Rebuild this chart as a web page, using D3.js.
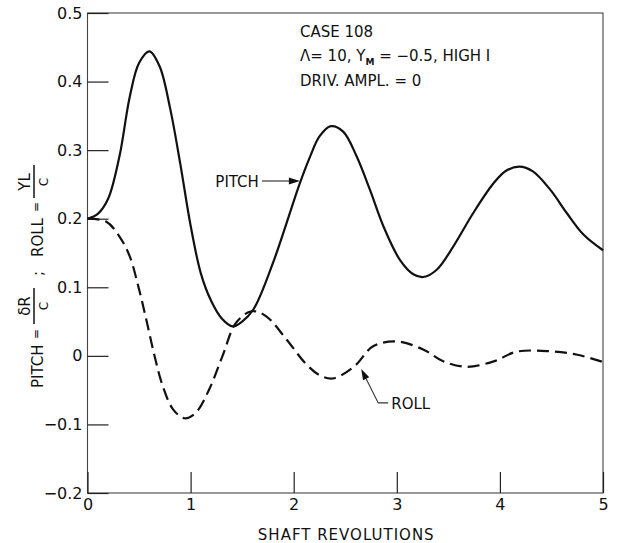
<!DOCTYPE html>
<html>
<head>
<meta charset="utf-8">
<script src="https://cdn.jsdelivr.net/npm/d3@7"></script>
<style>
  body { margin: 0; background: #fff; }
  text { font-family: "DejaVu Sans", sans-serif; fill: #111; }
</style>
</head>
<body>
<div id="chart"></div>
<script>
// values
var pitchX = [0, 0.1, 0.2, 0.31, 0.41, 0.5, 0.6, 0.7, 0.8, 0.9, 1.0, 1.1, 1.2, 1.3, 1.41, 1.5, 1.61, 1.8, 2.06, 2.16, 2.25, 2.36, 2.48, 2.61, 2.74, 2.87, 3.03, 3.16, 3.26, 3.39, 3.55, 3.74, 3.94, 4.06, 4.19, 4.32, 4.49, 4.65, 4.81, 5.0];
var pitchY = [0.2, 0.207, 0.229, 0.291, 0.378, 0.427, 0.444, 0.422, 0.362, 0.28, 0.19, 0.12, 0.08, 0.055, 0.043, 0.05, 0.068, 0.136, 0.252, 0.291, 0.32, 0.335, 0.327, 0.291, 0.242, 0.189, 0.14, 0.119, 0.115, 0.126, 0.16, 0.208, 0.252, 0.27, 0.276, 0.269, 0.242, 0.208, 0.177, 0.154];

var rollX = [0, 0.18, 0.31, 0.41, 0.5, 0.57, 0.65, 0.73, 0.83, 0.94, 1.05, 1.18, 1.31, 1.44, 1.59, 1.73, 1.93, 2.12, 2.25, 2.38, 2.59, 2.77, 3.0, 3.26, 3.45, 3.68, 3.94, 4.16, 4.45, 4.74, 5.0];
var rollY = [0.2, 0.196, 0.174, 0.145, 0.097, 0.053, 0.0, -0.044, -0.078, -0.091, -0.083, -0.049, 0.0, 0.048, 0.065, 0.058, 0.024, -0.012, -0.028, -0.033, -0.015, 0.014, 0.021, 0.009, -0.008, -0.016, -0.008, 0.006, 0.007, 0.002, -0.009];

var xTicks = [0, 1, 2, 3, 4, 5];
var xTickLabels = ["0", "1", "2", "3", "4", "5"];
var yTicks = [0.5, 0.4, 0.3, 0.2, 0.1, 0, -0.1, -0.2];
var yTickLabels = ["0.5", "0.4", "0.3", "0.2", "0.1", "0", "\u22120.1", "\u22120.2"];

var caseLines = ["CASE  108", "DRIV.  AMPL. = 0"];

// set the dimensions and margins of the graph
var margin = {top: 13, right: 18, bottom: 50, left: 87.5},
    width = 621 - margin.left - margin.right,
    height = 543 - margin.top - margin.bottom;

var svg = d3.select("#chart")
  .append("svg")
    .attr("width", 621)
    .attr("height", 543)
  .append("g")
    .attr("transform", "translate(" + margin.left + "," + margin.top + ")");

var x = d3.scaleLinear().domain([0, 5]).range([0, width]);
var y = d3.scaleLinear().domain([-0.2, 0.5]).range([height, 0]);

// frame
svg.append("rect")
  .attr("x", 0).attr("y", 0)
  .attr("width", width).attr("height", height)
  .attr("fill", "none")
  .attr("stroke", "#444")
  .attr("stroke-width", 1.1);

// x axis, ticks pointing inward
var xAxis = svg.append("g")
  .attr("transform", "translate(0," + height + ")")
  .call(d3.axisBottom(x)
    .tickValues(xTicks)
    .tickFormat(function(d, i) { return xTickLabels[i]; })
    .tickSizeInner(-21)
    .tickSizeOuter(0)
    .tickPadding(6));
xAxis.select(".domain").remove();
xAxis.selectAll("line").attr("stroke", "#222").attr("stroke-width", 1.2);
xAxis.selectAll("text")
  .attr("font-size", 16)
  .attr("font-family", "DejaVu Sans, sans-serif")
  .attr("fill", "#111");

// y axis
var yAxis = svg.append("g")
  .call(d3.axisLeft(y)
    .tickValues(yTicks)
    .tickFormat(function(d, i) { return yTickLabels[i]; })
    .tickSizeInner(-21)
    .tickSizeOuter(0)
    .tickPadding(5));
yAxis.select(".domain").remove();
yAxis.selectAll("line").attr("stroke", "#222").attr("stroke-width", 1.2);
yAxis.selectAll("text")
  .attr("font-size", 16)
  .attr("font-family", "DejaVu Sans, sans-serif")
  .attr("fill", "#111");

// x label
svg.append("text")
  .attr("x", width / 2 + 1)
  .attr("y", height + 47)
  .attr("text-anchor", "middle")
  .attr("font-size", 15)
  .attr("letter-spacing", 1)
  .text("SHAFT REVOLUTIONS");

// y label, rotated, with stacked fractions
var yl = svg.append("g")
  .attr("transform", "translate(" + (43 - margin.left) + "," + (388 - margin.top) + ") rotate(-90)");
yl.append("text").attr("x", 0).attr("y", 0).attr("font-size", 15).text("PITCH");
yl.append("text").attr("x", 49).attr("y", -3).attr("font-size", 12).text("=");
yl.append("line").attr("x1", 64).attr("x2", 100).attr("y1", -9).attr("y2", -9)
  .attr("stroke", "#111").attr("stroke-width", 1.5);
yl.append("text").attr("x", 82).attr("y", -13).attr("text-anchor", "middle").attr("font-size", 15).text("\u03b4R");
yl.append("text").attr("x", 82).attr("y", 5).attr("text-anchor", "middle").attr("font-size", 12).text("C");
yl.append("text").attr("x", 112).attr("y", 0).attr("font-size", 15).text(";");
yl.append("text").attr("x", 131).attr("y", 0).attr("font-size", 15).text("ROLL");
yl.append("text").attr("x", 176).attr("y", -3).attr("font-size", 12).text("=");
yl.append("line").attr("x1", 190).attr("x2", 223).attr("y1", -9).attr("y2", -9)
  .attr("stroke", "#111").attr("stroke-width", 1.5);
yl.append("text").attr("x", 206).attr("y", -13).attr("text-anchor", "middle").attr("font-size", 15).text("YL");
yl.append("text").attr("x", 206).attr("y", 5).attr("text-anchor", "middle").attr("font-size", 12).text("C");

// lines
var pitchData = pitchX.map(function(d, i) { return [d, pitchY[i]]; });
var rollData = rollX.map(function(d, i) { return [d, rollY[i]]; });

var line = d3.line()
  .x(function(d) { return x(d[0]); })
  .y(function(d) { return y(d[1]); })
  .curve(d3.curveCatmullRom.alpha(0.5));

svg.append("path")
  .datum(pitchData)
  .attr("d", line)
  .attr("fill", "none")
  .attr("stroke", "#111")
  .attr("stroke-width", 2.2);

svg.append("path")
  .datum(rollData)
  .attr("d", line)
  .attr("fill", "none")
  .attr("stroke", "#111")
  .attr("stroke-width", 2.2)
  .attr("stroke-dasharray", "12,6");

// case text
var caseX = 300 - margin.left;
svg.append("text").attr("x", caseX).attr("y", 37 - margin.top).attr("font-size", 15).text(caseLines[0]);
var l2 = svg.append("text").attr("x", caseX).attr("y", 61 - margin.top).attr("font-size", 15);
l2.append("tspan").text("\u039b= 10,  Y");
l2.append("tspan").attr("font-size", 9).attr("font-weight", "bold").attr("dy", 4).text("M");
l2.append("tspan").attr("dy", -4).text(" = \u22120.5,  HIGH  I");
svg.append("text").attr("x", caseX).attr("y", 86 - margin.top).attr("font-size", 15).text(caseLines[1]);

// arrow helper
function arrowHead(tip, from, len, half) {
  var dx = tip[0] - from[0], dy = tip[1] - from[1];
  var L = Math.sqrt(dx * dx + dy * dy);
  var ux = dx / L, uy = dy / L;
  var bx = tip[0] - ux * len, by = tip[1] - uy * len;
  return "M" + tip[0] + "," + tip[1] +
    "L" + (bx - uy * half) + "," + (by + ux * half) +
    "L" + (bx + uy * half) + "," + (by - ux * half) + "Z";
}

// PITCH label
var pTip = [x(2.06), y(0.255)];
var pFrom = [pTip[0] - 38, pTip[1]];
svg.append("line")
  .attr("x1", pFrom[0]).attr("y1", pFrom[1])
  .attr("x2", pTip[0] - 6).attr("y2", pTip[1])
  .attr("stroke", "#111").attr("stroke-width", 1.2);
svg.append("path").attr("d", arrowHead(pTip, pFrom, 11, 3.5)).attr("fill", "#111");
svg.append("text")
  .attr("x", pFrom[0] - 3).attr("y", pTip[1] + 6)
  .attr("text-anchor", "end")
  .attr("font-size", 15)
  .text("PITCH");

// ROLL label
var rTip = [x(2.655), y(-0.019)];
var rKnee = [rTip[0] + 17, rTip[1] + 34];
var rEnd = [rKnee[0] + 10, rKnee[1]];
svg.append("path")
  .attr("d", "M" + rEnd[0] + "," + rEnd[1] + "L" + rKnee[0] + "," + rKnee[1] + "L" + (rTip[0] + 3) + "," + (rTip[1] + 6))
  .attr("fill", "none").attr("stroke", "#333").attr("stroke-width", 1.1);
svg.append("path").attr("d", arrowHead(rTip, rKnee, 11, 3.5)).attr("fill", "#111");
svg.append("text")
  .attr("x", rEnd[0] + 3).attr("y", rEnd[1] + 6)
  .attr("font-size", 15)
  .text("ROLL");
</script>
</body>
</html>
